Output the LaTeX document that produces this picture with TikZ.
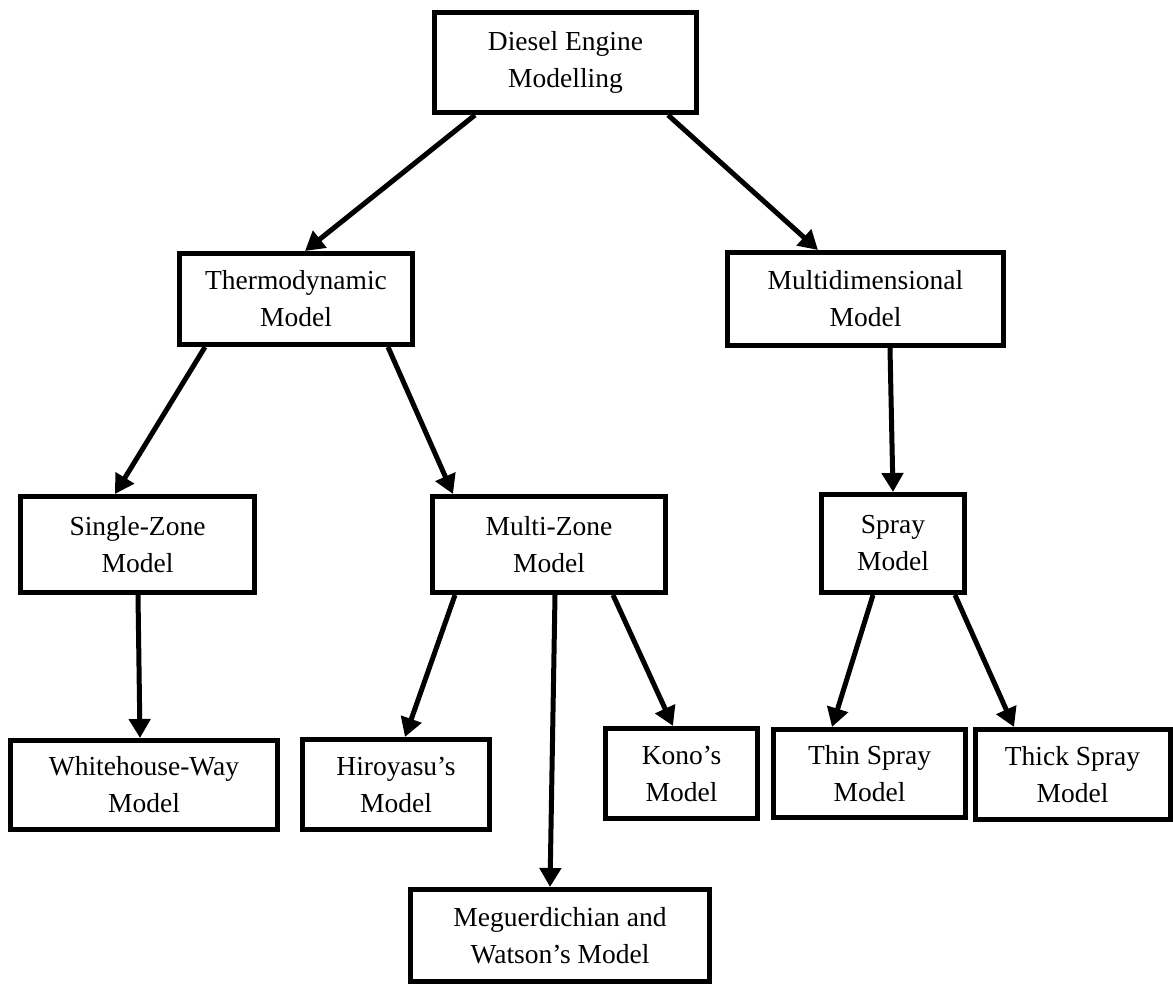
\documentclass[tikz,border=0pt]{standalone}
\usepackage{fontspec}
\setmainfont{Liberation Serif}
\usetikzlibrary{arrows.meta,positioning}

\begin{document}
\begin{tikzpicture}[
    x=1pt,y=-1pt,
    every node/.style={font=\fontsize{27.5}{37}\selectfont},
    box/.style={rectangle,draw=black,line width=5pt,fill=white,align=center,
                inner sep=0pt},
    arr/.style={-{Triangle[length=19pt,width=21pt]},line width=5pt,black}
  ]
  \useasboundingbox (0,0) rectangle (1173,984);
  % Top row
  \node[box,minimum width=262pt,minimum height=100pt] (diesel) at (565.5,62.5)
        {Diesel Engine\\Modelling};
  % Second row
  \node[box,minimum width=233pt,minimum height=91pt] (thermo) at (296,299)
        {Thermodynamic\\Model};
  \node[box,minimum width=276pt,minimum height=93pt] (multidim) at (865.5,299)
        {Multidimensional\\Model};
  % Third row
  \node[box,minimum width=234pt,minimum height=96pt] (single) at (137.5,544.5)
        {Single-Zone\\Model};
  \node[box,minimum width=233pt,minimum height=96pt] (multizone) at (549,544.5)
        {Multi-Zone\\Model};
  \node[box,minimum width=143pt,minimum height=98pt] (spray) at (893,543.5)
        {Spray\\Model};
  % Bottom row
  \node[box,minimum width=267pt,minimum height=89pt] (whitehouse) at (144,785)
        {Whitehouse-Way\\Model};
  \node[box,minimum width=187pt,minimum height=90pt] (hiroyasu) at (396,784.5)
        {Hiroyasu’s\\Model};
  \node[box,minimum width=152pt,minimum height=90pt] (kono) at (681.5,773.5)
        {Kono’s\\Model};
  \node[box,minimum width=192pt,minimum height=88pt] (thin) at (869.5,773.5)
        {Thin Spray\\Model};
  \node[box,minimum width=195pt,minimum height=90pt] (thick) at (1072.5,774.5)
        {Thick Spray\\Model};
  \node[box,minimum width=299pt,minimum height=92pt] (meguerd) at (560,935.5)
        {Meguerdichian and\\Watson’s Model};
  % Arrows
  \draw[arr] ([xshift=-90.5pt]diesel.south) -- ([xshift=9pt]thermo.north);
  \draw[arr] ([xshift=102.5pt]diesel.south) -- ([xshift=-47.5pt]multidim.north);
  \draw[arr] ([xshift=-91pt]thermo.south) -- ([xshift=-22.5pt]single.north);
  \draw[arr] ([xshift=92pt]thermo.south) -- ([xshift=-96pt]multizone.north);
  \draw[arr] ([xshift=24.5pt]multidim.south) -- (spray.north);
  \draw[arr] ([xshift=0.5pt]single.south) -- ([xshift=-4pt]whitehouse.north);
  \draw[arr] ([xshift=-94pt]multizone.south) -- ([xshift=9pt]hiroyasu.north);
  \draw[arr] ([xshift=6pt]multizone.south) -- ([xshift=-10pt]meguerd.north);
  \draw[arr] ([xshift=64pt]multizone.south) -- ([xshift=-8.5pt]kono.north);
  \draw[arr] ([xshift=-20pt]spray.south) -- ([xshift=-37.5pt]thin.north);
  \draw[arr] ([xshift=62pt]spray.south) -- ([xshift=-58.5pt]thick.north);
\end{tikzpicture}
\end{document}
